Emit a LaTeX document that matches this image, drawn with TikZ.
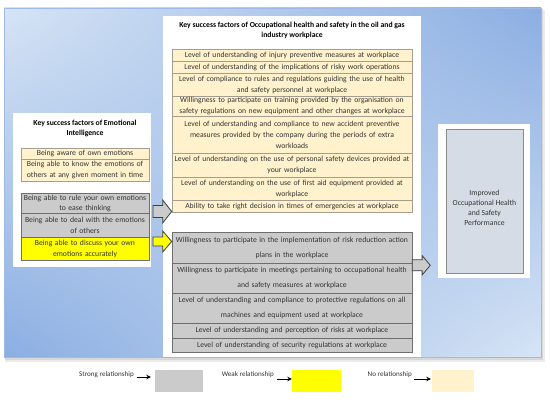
\documentclass[tikz,border=0pt]{standalone}
\usepackage{fontspec}
\setmainfont{Carlito}
\usetikzlibrary{calc,arrows.meta,shadings}
\definecolor{bglight}{HTML}{D6E4F5}
\definecolor{bgdark}{HTML}{8BAEE2}
\definecolor{bgedge}{HTML}{9DBBE6}
\definecolor{beige}{HTML}{FFF2CC}
\definecolor{beigeedge}{HTML}{A39E8F}
\definecolor{grayfill}{HTML}{CBCBCB}
\definecolor{grayedge}{HTML}{6E6E6E}
\definecolor{txt}{HTML}{333333}
\definecolor{perfill}{HTML}{D6DCE5}
\definecolor{peredge}{HTML}{8A8A8A}
\definecolor{yell}{HTML}{FFFF00}
\definecolor{arrowedge}{HTML}{404040}
\tikzset{
  tbl/.style={draw, line width=0.6pt, inner sep=0pt, align=center, anchor=north,
    font=\fontsize{7.7}{11.2}\selectfont, text=txt},
  crow/.style={tbl, minimum width=240pt, text width=238pt},
  lrow/.style={tbl, minimum width=128pt, text width=126pt},
  beigerow/.style={fill=beige, draw=beigeedge},
  grayrow/.style={fill=grayfill, draw=grayedge},
  yellowrow/.style={fill=yell, draw=grayedge},
  widegap/.style={font=\fontsize{7.7}{15}\selectfont},
  paneltitle/.style={align=center, font=\bfseries\fontsize{7.7}{10}\selectfont, text=black},
  panel/.style={fill=white, draw=none},
  blkline/.style={draw=arrowedge, line width=0.8pt, line join=miter},
  legtxt/.style={font=\fontsize{7.1}{8}\selectfont, text=txt, inner sep=0pt},
  legbox/.style={draw=none, minimum width=48pt, minimum height=22pt, inner sep=0pt},
  legarrow/.style={draw=black, line width=0.9pt, -{Stealth[length=4.5pt,width=4.5pt]}}
}
% #1 tail, #2 tip, #3 fill, #4 shaft half width, #5 head half width, #6 head length
\newcommand\blockarrow[6]{%
  \draw[blkline, fill=#3] ($(#1)+(0,-#4)$) -- ($(#2)+(-#6,-#4)$) -- ($(#2)+(-#6,-#5)$) -- (#2)
    -- ($(#2)+(-#6,#5)$) -- ($(#2)+(-#6,#4)$) -- ($(#1)+(0,#4)$) -- cycle;}
\begin{document}
\begin{tikzpicture}[x=1pt,y=-1pt]
\useasboundingbox (0,0) rectangle (550,403);
\fill[white] (0,0) rectangle (550,403);
% background with shadow
\fill[black, opacity=0.08] (5,10) rectangle (545,362);
\fill[black, opacity=0.08] (5,9) rectangle (543,360);
\shade[upper left=bglight, upper right=bgdark, lower left=bgdark, lower right=bglight]
  (4,8) rectangle (541,357);
\draw[bgedge, line width=0.6pt] (4,8) rectangle (541,357);
% white panels
\fill[panel] (163,16) rectangle (421,357);
\fill[panel] (13,113) rectangle (151,267);
\fill[panel] (438,124) rectangle (530,278);
% center title
\node[paneltitle] (ctitle) at (292,30)
  {Key success factors of Occupational health and safety in the oil and gas\\industry workplace};
% center beige rows
\node[crow, beigerow, minimum height=12pt] (c1) at (292,49)
  {Level of understanding of injury preventive measures at workplace};
\node[crow, beigerow, minimum height=12pt] (c2) at (292,61)
  {Level of understanding of the implications of risky work operations};
\node[crow, beigerow, minimum height=23pt] (c3) at (292,73)
  {Level of compliance to rules and regulations guiding the use of health\\and safety personnel at workplace};
\node[crow, beigerow, minimum height=20pt] (c4) at (292,96)
  {Willingness to participate on training provided by the organisation on\\safety regulations on new equipment and other changes at workplace};
\node[crow, beigerow, minimum height=37pt] (c5) at (292,116)
  {Level of understanding and compliance to new accident preventive\\measures provided by the company during the periods of extra\\workloads};
\node[crow, beigerow, minimum height=24pt] (c6) at (292,153)
  {Level of understanding on the use of personal safety devices provided at\\your workplace};
\node[crow, beigerow, minimum height=23pt] (c7) at (292,177)
  {Level of understanding on the use of first aid equipment provided at\\workplace};
\node[crow, beigerow, minimum height=12pt] (c8) at (292,200)
  {Ability to take right decision in times of emergencies at workplace};
% center gray rows
\node[crow, grayrow, widegap, minimum height=31pt] (g1) at (292,232)
  {Willingness to participate in the implementation of risk reduction action\\plans in the workplace};
\node[crow, grayrow, widegap, minimum height=30pt] (g2) at (292,263)
  {Willingness to participate in meetings pertaining to occupational health\\and safety measures at workplace};
\node[crow, grayrow, widegap, minimum height=30pt] (g3) at (292,293)
  {Level of understanding and compliance to protective regulations on all\\machines and equipment used at workplace};
\node[crow, grayrow, minimum height=15pt] (g4) at (292,323)
  {Level of understanding and perception of risks at workplace};
\node[crow, grayrow, minimum height=14pt] (g5) at (292,338)
  {Level of understanding of security regulations at workplace};
% left panel
\node[paneltitle] (ltitle) at (85,128.5) {Key success factors of Emotional\\Intelligence};
\node[lrow, beigerow, minimum height=11pt] (l1) at (85,148) {Being aware of own emotions};
\node[lrow, beigerow, minimum height=22pt] (l2) at (85,159)
  {Being able to know the emotions of\\others at any given moment in time};
\node[lrow, grayrow, font=\fontsize{7.7}{10}\selectfont, minimum height=20pt] (l3) at (85,193)
  {Being able to rule your own emotions\\to ease thinking};
\node[lrow, grayrow, minimum height=24pt] (l4) at (85,213)
  {Being able to deal with the emotions\\of others};
\node[lrow, yellowrow, minimum height=23pt] (l5) at (85,237)
  {Being able to discuss your own\\emotions accurately};
% right box
\node[draw=peredge, line width=0.6pt, fill=perfill, minimum width=77pt, minimum height=144pt,
  inner sep=0pt,
  label={[align=center, font=\fontsize{7.7}{10}\selectfont, text=txt, yshift=-7pt]center:Improved\\Occupational Health\\and Safety\\Performance}]
  (perf) at (484.5,201) {};
% block arrows
\coordinate (gtail) at (153,211.5);
\coordinate (gtip) at (gtail -| c8.west);
\blockarrow{gtail}{gtip}{grayfill}{6}{11.5}{9}
\coordinate (ytail) at (153,241.5);
\coordinate (ytip) at (ytail -| g1.west);
\blockarrow{ytail}{ytip}{yell}{4.5}{10.5}{9}
\coordinate (rtail) at ($(g1.east)+(0,17.5)$);
\coordinate (rtip) at ($(rtail)+(18,0)$);
\blockarrow{rtail}{rtip}{grayfill}{5.5}{9.5}{8}
% legend
\node[legtxt, anchor=east] (strongtxt) at (134,375) {Strong relationship};
\node[legbox, fill=grayfill, minimum width=48pt] (strongbox) at (179,381) {};
\draw[legarrow] ($(strongtxt.east)+(3,2)$) -- ($(strongtxt.east -| strongbox.west)+(-4,2)$);
\node[legtxt, anchor=east] (weaktxt) at (274,375) {Weak relationship};
\node[legbox, fill=yell, minimum width=49pt] (weakbox) at (316.5,381) {};
\draw[legarrow] ($(weaktxt.east)+(3,4)$) -- ($(weaktxt.east -| weakbox.west)+(0,4)$);
\node[legtxt, anchor=east] (notxt) at (412,375) {No relationship};
\node[legbox, fill=beige, minimum width=42pt] (nobox) at (453,381) {};
\draw[legarrow] ($(notxt.east)+(2,4)$) -- ($(notxt.east -| nobox.west)+(-1,4)$);
\end{tikzpicture}
\end{document}
